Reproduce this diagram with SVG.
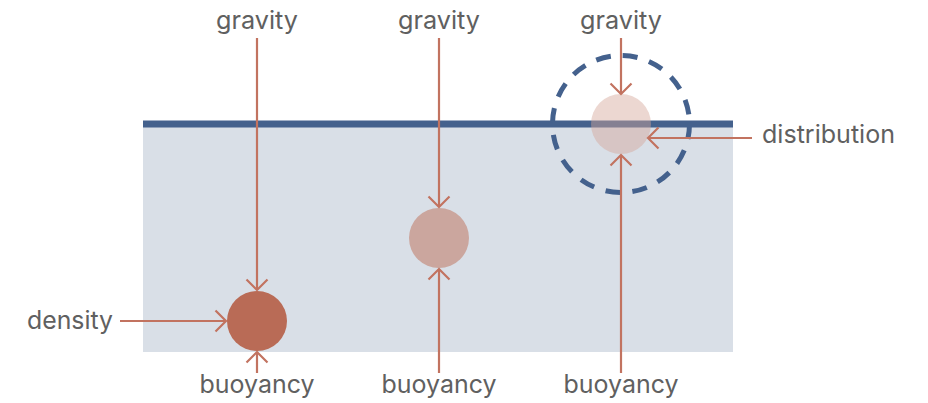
<svg xmlns="http://www.w3.org/2000/svg" width="928" height="403" viewBox="0 0 928 403">
<defs>
<style>
.lbl{font-family:Inter,"Liberation Sans",sans-serif;font-size:25px;fill:#606060}
.arr{stroke:#c27360;stroke-width:2.2;fill:none;marker-end:url(#ah)}
</style>
<marker id="ah" markerUnits="userSpaceOnUse" markerWidth="26" markerHeight="26" viewBox="-13 -13 26 26" refX="0" refY="0" orient="auto">
<path d="M-10.5,-10.5 L0,0 L-10.5,10.5" fill="none" stroke="#c27360" stroke-width="2.2"/>
</marker>
</defs>
<g id="water">
<rect x="143" y="124" width="590" height="228" fill="#d9dfe7"/>
<line x1="143" y1="124" x2="733" y2="124" stroke="#44618d" stroke-width="7"/>
</g>
<g id="particle-dense"><circle cx="257" cy="321" r="30" fill="#b96b56"/></g>
<g id="particle-mid"><circle cx="439" cy="238" r="30" fill="#cba69e"/></g>
<g id="particle-light">
<circle cx="621" cy="124" r="30" fill="#d5a699" fill-opacity="0.45"/>
<circle cx="621" cy="124" r="68.5" fill="none" stroke="#44618d" stroke-width="5" stroke-dasharray="15 12"/>
</g>
<g id="connectors">
<line class="arr" x1="257" y1="38" x2="257" y2="290"/>
<line class="arr" x1="439" y1="38" x2="439" y2="207"/>
<line class="arr" x1="621" y1="38" x2="621" y2="94"/>
<line class="arr" x1="257" y1="373" x2="257" y2="352"/>
<line class="arr" x1="439" y1="373" x2="439" y2="269"/>
<line class="arr" x1="621" y1="373" x2="621" y2="155"/>
<line class="arr" x1="120" y1="321" x2="226" y2="321"/>
<line class="arr" x1="752" y1="138" x2="648" y2="138"/>
</g>
<g id="labels">
<text class="lbl" x="257" y="29" text-anchor="middle" textLength="82" lengthAdjust="spacingAndGlyphs">gravity</text>
<text class="lbl" x="439" y="29" text-anchor="middle" textLength="82" lengthAdjust="spacingAndGlyphs">gravity</text>
<text class="lbl" x="621" y="29" text-anchor="middle" textLength="82" lengthAdjust="spacingAndGlyphs">gravity</text>
<text class="lbl" x="257" y="393" text-anchor="middle" textLength="115" lengthAdjust="spacingAndGlyphs">buoyancy</text>
<text class="lbl" x="439" y="393" text-anchor="middle" textLength="115" lengthAdjust="spacingAndGlyphs">buoyancy</text>
<text class="lbl" x="621" y="393" text-anchor="middle" textLength="115" lengthAdjust="spacingAndGlyphs">buoyancy</text>
<text class="lbl" x="113" y="329" text-anchor="end" textLength="86" lengthAdjust="spacingAndGlyphs">density</text>
<text class="lbl" x="762" y="143" textLength="133" lengthAdjust="spacingAndGlyphs">distribution</text>
</g>
</svg>
